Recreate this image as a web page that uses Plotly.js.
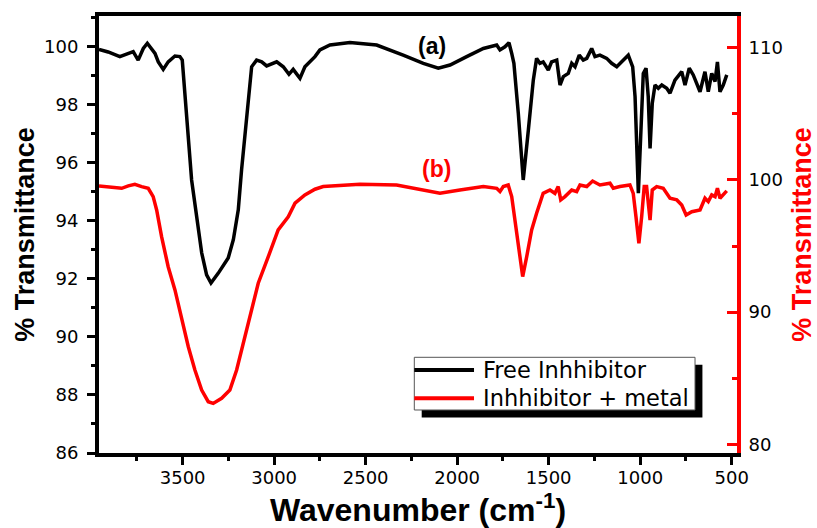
<!DOCTYPE html>
<html>
<head>
<meta charset="utf-8">
<script src="https://cdn.plot.ly/plotly-3.0.1.min.js"></script>
<style>html,body{margin:0;padding:0;background:#fff;}#chart{width:817px;height:528px;}</style>
</head>
<body>
<div id="chart"></div>
<script>
// Free inhibitor (left axis, % T)
const wnFree = [3957,3907,3843,3797,3770,3743,3715,3693,3669,3651,3633,3606,3579,3542,3515,3502,
  3451,3433,3396,3369,3345,3305,3251,3223,3196,3178,3170,3123,3096,3068,3041,2986,2950,2919,2896,2859,
  2832,2777,2750,2695,2586,2440,2295,2185,2103,2039,1948,1857,1784,1766,1739,1717,1702,1690,1666,1639,
  1611,1584,1566,1548,1530,1502,1484,1456,1438,1420,1393,1374,1356,1333,1311,1292,1265,1247,1220,1183,
  1156,1128,1101,1065,1041,1028,1010,997,983,968,956,946,934,919,901,882,855,837,810,773,755,732,710,
  673,646,628,609,591,578,564,546,527];
const tFree = [99.91,99.82,99.66,99.77,99.83,99.54,99.94,100.12,99.89,99.77,99.48,99.22,99.48,99.68,99.66,99.54,
  95.41,94.62,92.90,92.14,91.86,92.20,92.72,93.35,94.38,95.76,96.30,99.31,99.54,99.48,99.34,99.48,99.31,99.05,99.22,98.91,
  99.31,99.66,99.89,100.06,100.15,100.06,99.71,99.43,99.26,99.37,99.66,99.94,100.06,99.89,100.00,100.14,99.77,99.43,97.71,95.41,
  97.13,98.85,99.60,99.43,99.48,99.20,99.48,99.54,98.68,98.97,99.08,99.43,99.31,99.71,99.54,99.60,99.94,99.66,99.71,99.60,
  99.43,99.31,99.48,99.71,99.31,98.28,94.95,97.13,99.08,99.26,98.28,96.50,98.05,98.68,98.57,98.68,98.57,98.40,98.85,99.14,98.68,99.26,99.03,
  98.45,99.14,98.45,99.08,98.80,99.48,98.45,98.68,99.03];
// Inhibitor + metal (right axis, % T)
const wnMetal = [3957,3870,3833,3797,3761,3724,3688,3661,3642,3615,3579,3542,3505,3469,3433,3396,3360,3333,
  3287,3242,3205,3169,3132,3087,3032,2978,2923,2886,2832,2777,2732,2531,2331,2203,2094,1985,1857,1784,1766,
  1748,1721,1702,1684,1666,1642,1620,1593,1566,1548,1530,1493,1466,1448,1434,1411,1374,1347,1329,1292,1260,
  1220,1165,1147,1111,1056,1038,1023,1007,992,978,965,956,946,934,910,874,837,800,773,749,718,673,646,628,
  609,591,578,564,546,527];
const tMetal = [99.55,99.45,99.37,99.55,99.67,99.50,99.37,98.74,97.73,95.71,93.44,91.68,89.41,87.39,85.63,84.11,83.23,83.10,
  83.49,84.11,85.63,87.65,89.92,92.19,94.20,96.22,97.22,98.24,98.87,99.30,99.50,99.67,99.62,99.30,98.99,99.24,99.50,99.37,99.12,
  99.50,99.62,98.74,96.97,94.95,92.69,94.20,96.22,97.48,98.24,98.99,99.24,98.99,99.50,98.49,98.74,99.24,99.12,99.62,99.50,99.92,
  99.62,99.75,99.37,99.50,99.62,98.99,97.22,95.21,97.22,99.50,99.50,98.24,96.97,99.24,99.50,99.37,98.62,98.49,98.11,97.35,97.60,97.73,98.62,98.36,
  98.87,98.74,99.37,98.62,98.87,99.17];

const seriesNames = ['Free Inhhibitor', 'Inhhibitor + metal'];
const seriesColors = ['#000000', '#ff0000'];
const leftTicks = [86,88,90,92,94,96,98,100];
const rightTicks = [80,90,100,110];
const xTicks = [3500,3000,2500,2000,1500,1000,500];

const AR = 'Liberation Sans, Arial, sans-serif';
const DJ = 'DejaVu Sans, sans-serif';

const traces = [
  {x: wnFree, y: tFree, type: 'scatter', mode: 'lines', name: seriesNames[0],
   line: {color: seriesColors[0], width: 3.5}, yaxis: 'y'},
  {x: wnMetal, y: tMetal, type: 'scatter', mode: 'lines', name: seriesNames[1],
   line: {color: seriesColors[1], width: 3.5}, yaxis: 'y2'}
];

// hand-drawn legend box (paper coordinates), with drop shadow like the original
const LG = {x0: 0.4942, x1: 0.9342, y0: 0.0984, y1: 0.2190, dx: 0.0116, dy: 0.0172,
            rowY: [0.1899, 0.1252], lineX1: 0.5878, textX: 0.5985};
const shapes = [
  {type: 'rect', xref: 'paper', yref: 'paper', x0: LG.x0 + LG.dx, x1: LG.x1 + LG.dx, y0: LG.y0 - LG.dy, y1: LG.y1 - LG.dy,
   fillcolor: '#000000', line: {width: 0}, layer: 'above'},
  {type: 'rect', xref: 'paper', yref: 'paper', x0: LG.x0, x1: LG.x1, y0: LG.y0, y1: LG.y1,
   fillcolor: '#ffffff', line: {width: 1, color: '#555555'}, layer: 'above'}
];
const annotations = [
  {x: 2139, y: 100.04, xref: 'x', yref: 'y', text: '<b>(a)</b>', showarrow: false,
   font: {family: AR, size: 23, color: '#000'}},
  {x: 2112, y: 95.79, xref: 'x', yref: 'y', text: '<b>(b)</b>', showarrow: false,
   font: {family: AR, size: 23, color: '#ff0000'}}
];
seriesNames.forEach((nm, i) => {
  shapes.push({type: 'line', xref: 'paper', yref: 'paper', x0: LG.x0, x1: LG.lineX1, y0: LG.rowY[i], y1: LG.rowY[i],
    line: {color: seriesColors[i], width: 4}, layer: 'above'});
  annotations.push({xref: 'paper', yref: 'paper', x: LG.textX, y: LG.rowY[i], xanchor: 'left', yanchor: 'middle',
    text: nm, showarrow: false, font: {family: DJ, size: 22.5, color: '#000'}});
});

const layout = {
  width: 817, height: 528,
  margin: {l: 99, r: 80, t: 16, b: 75},
  paper_bgcolor: '#ffffff', plot_bgcolor: '#ffffff',
  showlegend: false,
  xaxis: {
    range: [3957, 471], tickvals: xTicks, ticktext: xTicks.map(String),
    showgrid: false, zeroline: false,
    showline: true, linecolor: '#000', linewidth: 4, mirror: true,
    ticks: 'outside', ticklen: 8, tickwidth: 3, tickcolor: '#000',
    ticklabelstandoff: -3,
    minor: {dtick: 250, ticks: 'outside', ticklen: 4, tickwidth: 2.5, tickcolor: '#000', showgrid: false},
    tickfont: {family: DJ, size: 18, color: '#000'},
    title: {text: '<b>Wavenumber (cm<sup>-1</sup>)</b>', font: {family: AR, size: 32, color: '#000'}, standoff: 20}
  },
  yaxis: {
    range: [86, 101.06], tickvals: leftTicks, ticktext: leftTicks.map(String),
    showgrid: false, zeroline: false,
    showline: true, linecolor: '#000', linewidth: 4,
    ticks: 'outside', ticklen: 8, tickwidth: 3, tickcolor: '#000',
    ticklabelstandoff: 5,
    minor: {dtick: 1, ticks: 'outside', ticklen: 4, tickwidth: 2.5, tickcolor: '#000', showgrid: false},
    tickfont: {family: DJ, size: 18, color: '#000'},
    title: {text: '<b>% Transmittance</b>', font: {family: AR, size: 27, color: '#000'}, standoff: 3}
  },
  yaxis2: {
    overlaying: 'y', side: 'right',
    range: [79.35, 112.4], tickvals: rightTicks, ticktext: rightTicks.map(String),
    showgrid: false, zeroline: false,
    showline: true, linecolor: '#ff0000', linewidth: 4,
    ticks: 'inside', ticklen: 10, tickwidth: 3, tickcolor: '#ff0000',
    ticklabelstandoff: 4,
    minor: {dtick: 5, ticks: 'inside', ticklen: 5, tickwidth: 2.5, tickcolor: '#ff0000', showgrid: false},
    tickfont: {family: DJ, size: 18, color: '#000'},
    title: {text: '<b>% Transmittance</b>', font: {family: AR, size: 27, color: '#ff0000'}, standoff: 12}
  },
  shapes: shapes,
  annotations: annotations
};

Plotly.newPlot('chart', traces, layout, {displayModeBar: false, responsive: false});
</script>
</body>
</html>
